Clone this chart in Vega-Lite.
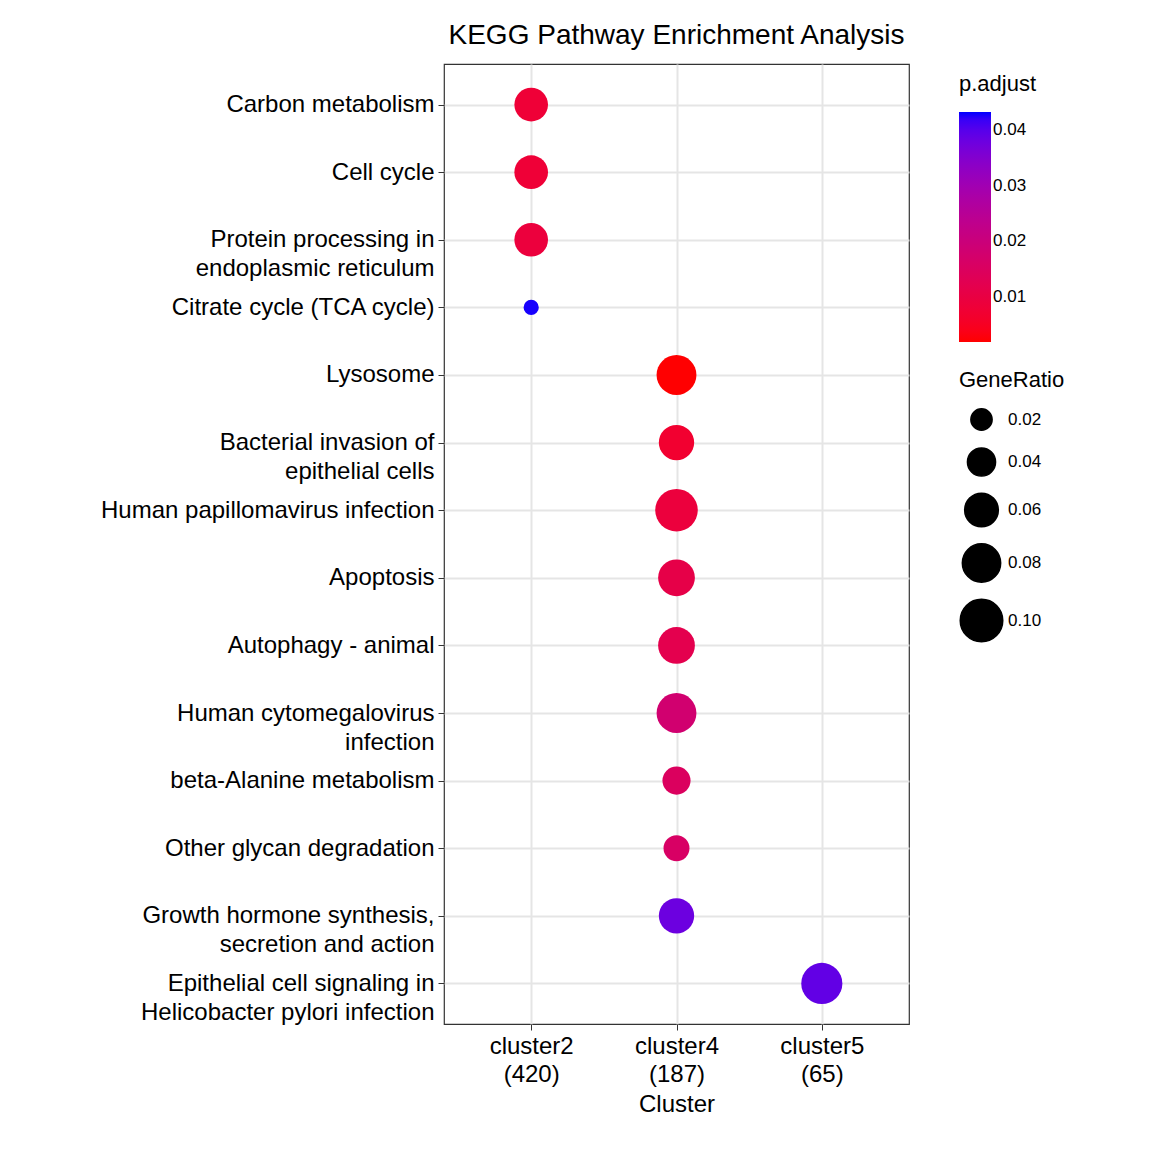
{
"$schema":"https://vega.github.io/schema/vega-lite/v6.json",
"background":"white",
"padding":{"left":100,"top":22,"right":10,"bottom":10},
"width":465,"height":960,
"title":{"text":"KEGG Pathway Enrichment Analysis","fontSize":28,"font":"Liberation Sans","fontWeight":"normal","color":"black","anchor":"middle","offset":14},
"data":{"values":[
{"pathway":"Carbon metabolism","cluster":"cluster2|(420)","GeneRatio":0.06,"p":0.008},
{"pathway":"Cell cycle","cluster":"cluster2|(420)","GeneRatio":0.06,"p":0.008},
{"pathway":"Protein processing in|endoplasmic reticulum","cluster":"cluster2|(420)","GeneRatio":0.06,"p":0.009},
{"pathway":"Citrate cycle (TCA cycle)","cluster":"cluster2|(420)","GeneRatio":0.007,"p":0.043},
{"pathway":"Lysosome","cluster":"cluster4|(187)","GeneRatio":0.087,"p":0.002},
{"pathway":"Bacterial invasion of|epithelial cells","cluster":"cluster4|(187)","GeneRatio":0.067,"p":0.007},
{"pathway":"Human papillomavirus infection","cluster":"cluster4|(187)","GeneRatio":0.1,"p":0.009},
{"pathway":"Apoptosis","cluster":"cluster4|(187)","GeneRatio":0.073,"p":0.011},
{"pathway":"Autophagy - animal","cluster":"cluster4|(187)","GeneRatio":0.073,"p":0.012},
{"pathway":"Human cytomegalovirus|infection","cluster":"cluster4|(187)","GeneRatio":0.087,"p":0.018},
{"pathway":"beta-Alanine metabolism","cluster":"cluster4|(187)","GeneRatio":0.04,"p":0.015},
{"pathway":"Other glycan degradation","cluster":"cluster4|(187)","GeneRatio":0.033,"p":0.016},
{"pathway":"Growth hormone synthesis,|secretion and action","cluster":"cluster4|(187)","GeneRatio":0.067,"p":0.038},
{"pathway":"Epithelial cell signaling in|Helicobacter pylori infection","cluster":"cluster5|(65)","GeneRatio":0.093,"p":0.039}
]},
"mark":{"type":"circle","opacity":1},
"encoding":{
"x":{"field":"cluster","type":"nominal","sort":null,"scale":{"type":"point","padding":0.6},
 "axis":{"title":"Cluster","labelAngle":0,"labelExpr":"split(datum.label,'|')","labelFontSize":24,"titleFontSize":24,"titleFontWeight":"normal","labelColor":"black","titleColor":"black","titlePadding":6,"labelPadding":4,"tickColor":"#333","tickSize":6,"labelLineHeight":28}},
"y":{"field":"pathway","type":"nominal","sort":null,"scale":{"type":"point","padding":0.6},
 "axis":{"title":null,"labelExpr":"split(datum.label,'|')","labelFontSize":24,"labelColor":"black","labelLimit":600,"tickColor":"#333","tickSize":6,"labelPadding":4,"labelLineHeight":29}},
"size":{"field":"GeneRatio","type":"quantitative","scale":{"domain":[0,0.1],"range":[113,1810],"zero":false},
 "legend":{"title":"GeneRatio","values":[0.02,0.04,0.06,0.08,0.1],"format":".2f","symbolFillColor":"black","symbolStrokeColor":"black","symbolType":"circle","order":0}},
"color":{"field":"p","type":"quantitative","scale":{"domain":[0.0019,0.0433],"range":["#ff0000","#0000ff"],"interpolate":"lab"},
 "legend":{"title":"p.adjust","values":[0.01,0.02,0.03,0.04],"format":".2f","gradientLength":230,"gradientThickness":32,"direction":"vertical","order":1}}
},
"config":{
"font":"Liberation Sans",
"view":{"stroke":"#333","strokeWidth":1.2},
"axis":{"grid":true,"gridColor":"#e5e5e5","gridWidth":2,"domain":false},
"legend":{"titleFontSize":22,"titleFontWeight":"normal","titleColor":"black","labelFontSize":17,"labelColor":"black","offset":40,"rowPadding":10,"titlePadding":16,"padding":10}
}
}
